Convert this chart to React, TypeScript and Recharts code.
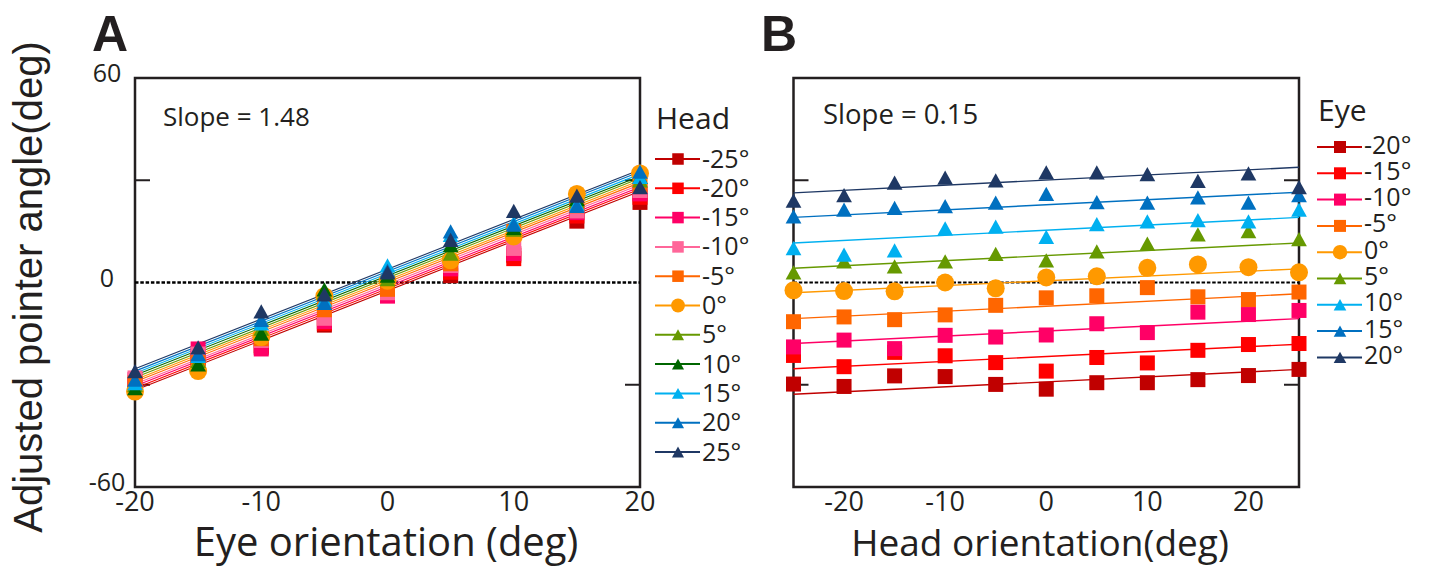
import React from 'react';
import { ScatterChart, Scatter, XAxis, YAxis, ReferenceLine, ReferenceArea } from 'recharts';

// ---------- panel A: pointer angle vs eye orientation, one series per head orientation ----------
const A_EYE = [-20, -15, -10, -5, 0, 5, 10, 15, 20];
const A_X_TICKS = [-20, -10, 0, 10, 20];
const A_HEAD_LABELS = ['-25°', '-20°', '-15°', '-10°', '-5°', '0°', '5°', '10°', '15°', '20°', '25°'];

const A_HEAD_M25 = [-30, -23, -19, -12.5, -3, 2, 8, 18, 23.5];
const A_HEAD_M20 = [-30.5, -22, -18.5, -12, -3, 3, 7, 19.5, 25];
const A_HEAD_M15 = [-28.5, -19.5, -19.5, -11.5, -4, 4, 8.5, 20.5, 26];
const A_HEAD_M10 = [-28, -21, -17, -10.5, -3, 5, 10, 21, 27];
const A_HEAD_M5 = [-29.5, -23.5, -16.5, -8, -2, 5.5, 15, 22.5, 28.5];
const A_HEAD_0 = [-32, -26, -16, -4, 0.5, 6.5, 13.5, 26, 32];
const A_HEAD_5 = [-30, -23, -13.5, -3, 1, 8.5, 15.5, 24, 30];
const A_HEAD_10 = [-31, -24, -15, -2, 2, 11, 16, 24.5, 31];
const A_HEAD_15 = [-29.5, -21.5, -12, -5, 5, 14, 17.5, 23, 31];
const A_HEAD_20 = [-28.5, -21, -11, -6, 3.5, 15, 17, 22.5, 32.5];
const A_HEAD_25 = [-26, -19, -8.5, -3.5, 3, 12.5, 21, 25.5, 28];

// fitted lines (common slope 1.48), value at eye -20 and eye 20
const A_FIT_START = [-31.6, -31.0, -30.4, -29.8, -29.1, -28.5, -27.9, -27.2, -26.6, -26.0, -25.3];
const A_FIT_END = [26.8, 27.4, 28.0, 28.7, 29.3, 29.9, 30.6, 31.2, 31.8, 32.5, 33.1];

// ---------- panel B: pointer angle vs head orientation, one series per eye orientation ----------
const B_HEAD = [-25, -20, -15, -10, -5, 0, 5, 10, 15, 20, 25];
const B_X_TICKS = [-20, -10, 0, 10, 20];
const B_EYE_LABELS = ['-20°', '-15°', '-10°', '-5°', '0°', '5°', '10°', '15°', '20°'];

const B_EYE_M20 = [-29.8, -30.5, -27.4, -27.6, -29.9, -31.3, -29.4, -29.4, -28.5, -27.3, -25.5];
const B_EYE_M15 = [-21.4, -24.7, -20.5, -21.5, -23.5, -26, -22, -23.6, -19.9, -18.2, -17.9];
const B_EYE_M10 = [-18.9, -16.9, -19.4, -15.5, -16, -15.4, -12.1, -14.7, -8.7, -9.4, -8.2];
const B_EYE_M5 = [-11.5, -10.1, -10.9, -9.5, -6.7, -4.5, -3.9, -1.5, -4.2, -5, -2.8];
const B_EYE_0 = [-2.3, -2.5, -2.6, 0, -1.7, 1.5, 1.8, 4.3, 5.3, 4.5, 3];
const B_EYE_5 = [3, 6.2, 4.7, 6.2, 8.4, 6.5, 9.1, 11.4, 14.1, 15.1, 12.7];
const B_EYE_10 = [10.1, 8.2, 9.4, 15.9, 16.4, 13.4, 17.1, 17.9, 18.3, 17.9, 21.4];
const B_EYE_15 = [19.4, 21.4, 21.9, 22.4, 23.4, 26, 23.6, 23.4, 25, 23.4, 25.6];
const B_EYE_20 = [24, 25.6, 29.3, 30.8, 30, 32.3, 32.3, 31.8, 29.8, 32, 28];

// fitted lines (common slope 0.15), value at head -25 and head 25
const B_FIT_START = [-32.8, -25.3, -17.9, -10.6, -3, 4.2, 11.6, 19.1, 26.3];
const B_FIT_END = [-25.5, -18.1, -10.6, -3.3, 4, 11.6, 19.1, 26.5, 33.8];

const Y_LABELS = [-60, 0, 60];
const Y_INNER_TICKS = [-30, 30];

// ---------- styles ----------
type Shape = 'square' | 'circle' | 'triangle';
const C = {
  darkRed: '#C00000',
  red: '#FF0000',
  magenta: '#FF0066',
  pink: '#FF6699',
  orangeSq: '#FF6600',
  orange: '#FF9900',
  olive: '#669900',
  green: '#006600',
  cyan: '#00B0F0',
  blue: '#0070C0',
  navy: '#1F3864',
};

const A_STYLE: { color: string; shape: Shape }[] = [
  { color: C.darkRed, shape: 'square' },
  { color: C.red, shape: 'square' },
  { color: C.magenta, shape: 'square' },
  { color: C.pink, shape: 'square' },
  { color: C.orangeSq, shape: 'square' },
  { color: C.orange, shape: 'circle' },
  { color: C.olive, shape: 'triangle' },
  { color: C.green, shape: 'triangle' },
  { color: C.cyan, shape: 'triangle' },
  { color: C.blue, shape: 'triangle' },
  { color: C.navy, shape: 'triangle' },
];

const B_STYLE: { color: string; shape: Shape }[] = [
  { color: C.darkRed, shape: 'square' },
  { color: C.red, shape: 'square' },
  { color: C.magenta, shape: 'square' },
  { color: C.orangeSq, shape: 'square' },
  { color: C.orange, shape: 'circle' },
  { color: C.olive, shape: 'triangle' },
  { color: C.cyan, shape: 'triangle' },
  { color: C.blue, shape: 'triangle' },
  { color: C.navy, shape: 'triangle' },
];

const A_VALUES = [A_HEAD_M25, A_HEAD_M20, A_HEAD_M15, A_HEAD_M10, A_HEAD_M5, A_HEAD_0, A_HEAD_5, A_HEAD_10, A_HEAD_15, A_HEAD_20, A_HEAD_25];
const B_VALUES = [B_EYE_M20, B_EYE_M15, B_EYE_M10, B_EYE_M5, B_EYE_0, B_EYE_5, B_EYE_10, B_EYE_15, B_EYE_20];

const FONT = '"Open Sans", Lato, sans-serif';
const INK = '#231F20';

interface Series {
  label: string;
  color: string;
  shape: Shape;
  points: { x: number; y: number }[];
  fit: { x: number; y: number }[];
}

function buildSeries(xs: number[], labels: string[], values: number[][], style: { color: string; shape: Shape }[], fs: number[], fe: number[]): Series[] {
  const x0 = xs[0];
  const x1 = xs[xs.length - 1];
  return labels.map((label, i) => ({
    label,
    ...style[i],
    points: xs.map((x, j) => ({ x, y: values[i][j] })),
    fit: [{ x: x0, y: fs[i] }, { x: x1, y: fe[i] }],
  }));
}

const A_SERIES = buildSeries(A_EYE, A_HEAD_LABELS, A_VALUES, A_STYLE, A_FIT_START, A_FIT_END);
const B_SERIES = buildSeries(B_HEAD, B_EYE_LABELS, B_VALUES, B_STYLE, B_FIT_START, B_FIT_END);

function Mark({ cx, cy, shape, color, size }: { cx?: number; cy?: number; shape: Shape; color: string; size: number }) {
  if (cx == null || cy == null) return <g />;
  if (shape === 'circle') return <circle cx={cx} cy={cy} r={size * 0.6} fill={color} />;
  if (shape === 'triangle') {
    const w = size * 1.05;
    const h = size * 0.95;
    return <polygon points={`${cx},${cy - h / 2} ${cx - w / 2},${cy + h / 2} ${cx + w / 2},${cy + h / 2}`} fill={color} />;
  }
  return <rect x={cx - size / 2} y={cy - size / 2} width={size} height={size} fill={color} />;
}

const yLabelTick = (p: any) => (
  <text x={p.x - 18} y={p.y + 4} textAnchor="middle" fontSize={25} fill={INK} fontFamily={FONT}>
    {p.payload.value}
  </text>
);

const noTick = () => <g />;

// short inward tick marks on both frame sides, drawn from the reference line's own end points
const innerTicks = (p: any) => {
  const lo = Math.min(p.x1, p.x2);
  const hi = Math.max(p.x1, p.x2);
  const y = p.y1;
  return (
    <g>
      <line x1={lo} x2={lo + 15} y1={y} y2={y} stroke={INK} strokeWidth={2} />
      <line x1={hi - 15} x2={hi} y1={y} y2={y} stroke={INK} strokeWidth={2} />
    </g>
  );
};

function Panel({ left, width, marginLeft, marginRight, domain, ticks, series, labels, dotWidth, fitWidth, size }: {
  left: number; width: number; marginLeft: number; marginRight: number; domain: [number, number]; ticks: number[];
  series: Series[]; labels: boolean; dotWidth: number; fitWidth: number; size: number;
}) {
  return (
    <div style={{ position: 'absolute', left, top: 0 }}>
      <ScatterChart width={width} height={576} margin={{ top: 78, right: marginRight, bottom: 49, left: marginLeft }}>
        <XAxis
          type="number"
          dataKey="x"
          domain={domain}
          ticks={ticks}
          interval={0}
          axisLine={false}
          tickLine={false}
          tickSize={4}
          tickMargin={1}
          height={40}
          tick={{ fontSize: 27, fill: INK, fontFamily: FONT }}
        />
        <YAxis
          yAxisId="l"
          type="number"
          dataKey="y"
          domain={[-60, 60]}
          ticks={Y_LABELS}
          interval={0}
          width={60}
          axisLine={false}
          tickLine={false}
          tickSize={6}
          tickMargin={4}
          tick={labels ? yLabelTick : noTick}
        />
        <ReferenceArea yAxisId="l" x1={domain[0]} x2={domain[1]} y1={-60} y2={60} fill="none" fillOpacity={0} stroke={INK} strokeWidth={2.5} />
        {Y_INNER_TICKS.map((v) => (
          <ReferenceLine key={v} yAxisId="l" y={v} shape={innerTicks} />
        ))}
        <ReferenceLine yAxisId="l" y={0} stroke="#000" strokeWidth={dotWidth} strokeDasharray="3.5 1.8" />
        {series.map((s) => (
          <Scatter
            key={'fit' + s.label}
            yAxisId="l"
            data={s.fit}
            line={{ stroke: s.color, strokeWidth: fitWidth }}
            shape={() => <g />}
            legendType="none"
            isAnimationActive={false}
          />
        ))}
        {series.map((s) => (
          <Scatter
            key={'pts' + s.label}
            yAxisId="l"
            data={s.points}
            fill={s.color}
            shape={(p: any) => <Mark cx={p.cx} cy={p.cy} shape={s.shape} color={s.color} size={size} />}
            isAnimationActive={false}
          />
        ))}
      </ScatterChart>
    </div>
  );
}

function LegendBox({ title, series, x, titleY, rowY, rowGap, fontSize, titleSize, mark, shift }: {
  title: string; series: Series[]; x: number; titleY: number; rowY: number; rowGap: number; fontSize: number; titleSize: number; mark: number; shift: number;
}) {
  return (
    <g fontFamily={FONT} fill={INK}>
      <text x={x + 1} y={titleY} fontSize={titleSize}>{title}</text>
      {series.map((s, i) => {
        const y = rowY + i * rowGap;
        return (
          <g key={s.label}>
            <line x1={x} x2={x + 45} y1={y} y2={y} stroke={s.color} strokeWidth={2} />
            <Mark cx={x + 23} cy={y} shape={s.shape} color={s.color} size={mark} />
            <text x={x + 47} y={y + shift} fontSize={fontSize}>{s.label}</text>
          </g>
        );
      })}
    </g>
  );
}

export default function App() {
  return (
    <div style={{ position: 'absolute', left: 0, top: 0, width: 1430, height: 576, background: '#fff', overflow: 'hidden' }}>
      <Panel left={0} width={660} marginLeft={75} marginRight={20} domain={[-20, 20]} ticks={A_X_TICKS} series={A_SERIES} labels dotWidth={2.6} fitWidth={1.1} size={15} />
      <Panel left={700} width={730} marginLeft={33.5} marginRight={131} domain={[-25, 25]} ticks={B_X_TICKS} series={B_SERIES} labels={false} dotWidth={2} fitWidth={1.4} size={15} />
      <svg width={1430} height={576} style={{ position: 'absolute', left: 0, top: 0, pointerEvents: 'none' }}>
        <text x={92} y={51} fontSize={50} fontWeight="bold" fontFamily='"Liberation Sans", Arial, sans-serif' fill={INK}>A</text>
        <text x={761} y={51} fontSize={50} fontWeight="bold" fontFamily='"Liberation Sans", Arial, sans-serif' fill={INK}>B</text>
        <text x={163} y={126} fontSize={26} fontFamily={FONT} fill={INK}>Slope = 1.48</text>
        <text x={823} y={124} fontSize={27.5} fontFamily={FONT} fill={INK}>Slope = 0.15</text>
        <text transform="translate(42 287) rotate(-90)" textAnchor="middle" fontSize={40} fontFamily='"Liberation Sans", Arial, sans-serif' fill={INK}>
          Adjusted pointer angle(deg)
        </text>
        <text x={386} y={556} textAnchor="middle" fontSize={40} fontFamily={FONT} fill={INK}>Eye orientation (deg)</text>
        <text x={1040} y={556} textAnchor="middle" fontSize={37} fontFamily={FONT} fill={INK}>Head orientation(deg)</text>
        <LegendBox title="Head" series={A_SERIES} x={655} titleY={129} rowY={159} rowGap={29.3} fontSize={25} titleSize={30} mark={11.5} shift={8.5} />
        <LegendBox title="Eye" series={B_SERIES} x={1317} titleY={121} rowY={147} rowGap={26.3} fontSize={25} titleSize={30} mark={12} shift={6.5} />
      </svg>
    </div>
  );
}
